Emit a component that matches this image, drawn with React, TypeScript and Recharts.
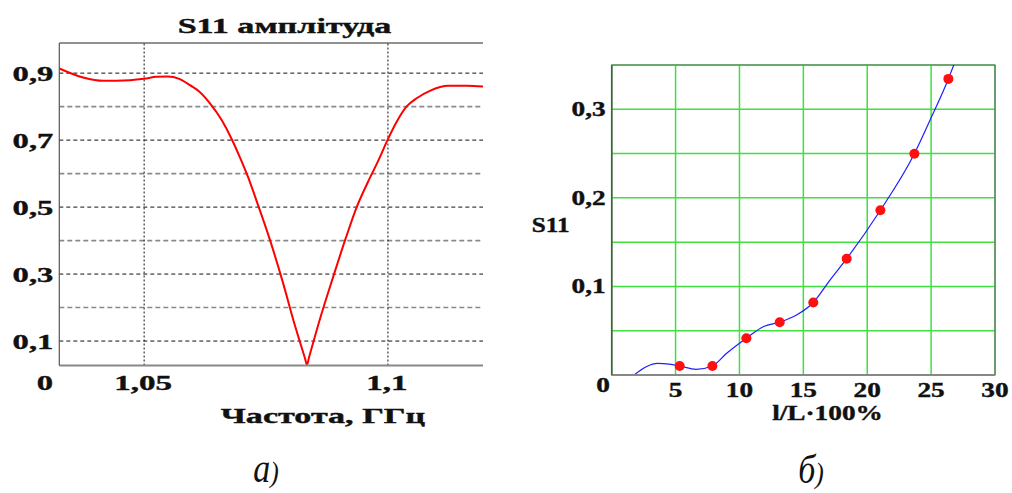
import React from 'react';
import {
  LineChart,
  Line,
  XAxis,
  YAxis,
  CartesianGrid,
  ReferenceLine,
  ReferenceArea,
  ComposedChart,
  Scatter,
} from 'recharts';

// ---- Chart (a): S11 amplitude vs frequency ----
const freqGHz = [
  1.0326, 1.0375, 1.0416, 1.0471, 1.05, 1.0525, 1.0548, 1.0572, 1.0594, 1.0614,
  1.0635, 1.0659, 1.0679, 1.0696, 1.0713, 1.073, 1.0758, 1.0785, 1.0806, 1.083,
  1.0834, 1.0838, 1.086, 1.0888, 1.0913, 1.0936, 1.0958, 1.098, 1.1, 1.1018,
  1.1038, 1.1059, 1.1086, 1.1124, 1.1162, 1.1195,
];
const s11Amplitude = [
  0.914, 0.887, 0.877, 0.879, 0.883, 0.889, 0.89, 0.883, 0.864, 0.844,
  0.81, 0.76, 0.705, 0.65, 0.59, 0.521, 0.402, 0.273, 0.163, 0.048,
  0.029, 0.05, 0.163, 0.293, 0.405, 0.5, 0.572, 0.638, 0.703, 0.755,
  0.8, 0.825, 0.847, 0.862, 0.862, 0.86,
];
const freqDomain = [1.0326, 1.1195];
const ampDomain = [0.027, 0.99];
const ampTicks = [0.1, 0.2, 0.3, 0.4, 0.5, 0.6, 0.7, 0.8, 0.9];
const ampLabels = [0.1, 0.3, 0.5, 0.7, 0.9];
const freqTicks = [1.05, 1.1];

// ---- Chart (b): S11 vs l/L*100% ----
const ratioPct = [5.32, 7.88, 10.54, 13.15, 15.78, 18.39, 21.03, 23.69, 26.35];
const s11Measured = [0.0102, 0.0102, 0.0415, 0.0596, 0.0819, 0.1313, 0.186, 0.2498, 0.3343];
const fitPct = [
  1.75, 2.7, 3.6, 4.5, 5.32, 6.6, 7.88, 9.0, 10.54, 11.9, 13.15, 14.5, 15.78,
  17.1, 18.39, 21.03, 23.69, 25.05, 26.35, 26.8,
];
const fitS11 = [
  0, 0.0094, 0.0132, 0.0123, 0.0102, 0.0064, 0.0102, 0.0245, 0.0415, 0.0547,
  0.0596, 0.068, 0.0819, 0.1075, 0.1313, 0.186, 0.2498, 0.292, 0.3343, 0.351,
];
const pctTicks = [0, 5, 10, 15, 20, 25, 30];
const s11Ticks = [0, 0.05, 0.1, 0.15, 0.2, 0.25, 0.3, 0.35];
const s11Labels = [0.1, 0.2, 0.3];

const ampData = freqGHz.map((f, i) => ({ f, v: s11Amplitude[i] }));
const measuredData = ratioPct.map((x, i) => ({ x, y: s11Measured[i] }));
const fitData = fitPct.map((x, i) => ({ x, y: fitS11[i] }));

const fmt = (v: number) => String(v).replace('.', ',');

const SERIF = 'Liberation Serif, Times New Roman, serif';
const INK = '#111';

const LeftYTick = (props: any) => {
  const { x, y, payload } = props;
  if (!ampLabels.includes(payload.value)) return <g />;
  return (
    <text
      x={0}
      y={0}
      transform={`translate(${x - 6},${y + 8}) scale(1.48,1)`}
      textAnchor="end"
      fontFamily={SERIF}
      fontWeight="bold"
      fontSize={22}
      fill={INK}
      stroke={INK}
      strokeWidth={0.4}
    >
      {fmt(payload.value)}
    </text>
  );
};

const LeftXTick = (props: any) => {
  const { x, y, payload } = props;
  return (
    <text
      x={0}
      y={0}
      transform={`translate(${x - 1},${y + 24.5}) scale(1.5,1)`}
      textAnchor="middle"
      fontFamily={SERIF}
      fontWeight="bold"
      fontSize={22}
      fill={INK}
      stroke={INK}
      strokeWidth={0.4}
    >
      {fmt(payload.value)}
    </text>
  );
};

const RightYTick = (props: any) => {
  const { x, y, payload } = props;
  if (!s11Labels.includes(payload.value)) return <g />;
  return (
    <text
      x={0}
      y={0}
      transform={`translate(${x - 6},${y + 6.7}) scale(1.3,1)`}
      textAnchor="end"
      fontFamily={SERIF}
      fontWeight="bold"
      fontSize={21}
      fill={INK}
      stroke={INK}
      strokeWidth={0.4}
    >
      {fmt(payload.value)}
    </text>
  );
};

const RightXTick = (props: any) => {
  const { x, y, payload } = props;
  const isZero = payload.value === 0;
  return (
    <text
      x={0}
      y={0}
      transform={`translate(${isZero ? x - 8.7 : x},${isZero ? y + 16.7 : y + 21.7}) scale(1.3,1)`}
      textAnchor="middle"
      fontFamily={SERIF}
      fontWeight="bold"
      fontSize={21}
      fill={INK}
      stroke={INK}
      strokeWidth={0.4}
    >
      {fmt(payload.value)}
    </text>
  );
};

const RedDot = (p: any) => <circle cx={p.cx} cy={p.cy} r={5} fill="#ff1010" />;

export default function App() {
  return (
    <div
      style={{
        position: 'absolute',
        left: 0,
        top: 0,
        width: 1012,
        height: 493,
        background: '#fff',
        overflow: 'hidden',
      }}
    >
      <div style={{ position: 'absolute', left: 0, top: 0 }}>
        <LineChart
          width={500}
          height={440}
          data={ampData}
          margin={{ top: 43, right: 17, left: 0, bottom: 44.5 }}
        >
          <XAxis
            type="number"
            dataKey="f"
            domain={freqDomain}
            ticks={freqTicks}
            allowDataOverflow
            height={30}
            tickSize={0}
            tickMargin={0}
            tickLine={false}
            axisLine={{ stroke: '#888', strokeWidth: 2 }}
            tick={<LeftXTick />}
          />
          <YAxis
            type="number"
            domain={ampDomain}
            ticks={ampTicks}
            allowDataOverflow
            width={59.3}
            tickSize={0}
            tickMargin={0}
            tickLine={false}
            axisLine={{ stroke: '#555', strokeWidth: 1.2 }}
            tick={<LeftYTick />}
          />
          {ampTicks.map((t) =>
            ampLabels.includes(t) ? (
              <ReferenceLine key={t} y={t} stroke="#111" strokeDasharray="4 3" strokeWidth={1} />
            ) : (
              <ReferenceLine key={t} y={t} stroke="#8a8a8a" strokeDasharray="5 3" strokeWidth={1.6} />
            )
          )}
          {freqTicks.map((t) => (
            <ReferenceLine key={'x' + t} x={t} stroke="#111" strokeDasharray="2 2" strokeWidth={1} />
          ))}
          <ReferenceLine y={ampDomain[1]} stroke="#222" strokeWidth={1} />
          <Line
            type="monotone"
            dataKey="v"
            stroke="#ff0000"
            strokeWidth={2}
            dot={false}
            isAnimationActive={false}
          />
        </LineChart>
      </div>

      <div style={{ position: 'absolute', left: 520, top: 0 }}>
        <ComposedChart
          width={492}
          height={440}
          margin={{ top: 65, right: 17, left: 0, bottom: 25 }}
        >
          <CartesianGrid stroke="#3fe03f" strokeWidth={1.5} />
          <XAxis
            type="number"
            dataKey="x"
            domain={[0, 30]}
            ticks={pctTicks}
            allowDataOverflow
            height={40}
            tickSize={0}
            tickMargin={0}
            tickLine={false}
            axisLine={{ stroke: '#888', strokeWidth: 2 }}
            tick={<RightXTick />}
          />
          <YAxis
            type="number"
            dataKey="y"
            domain={[0, 0.35]}
            ticks={s11Ticks}
            allowDataOverflow
            width={91.7}
            tickSize={0}
            tickMargin={0}
            tickLine={false}
            axisLine={{ stroke: '#555', strokeWidth: 1.5 }}
            tick={<RightYTick />}
          />
          <ReferenceArea
            x1={0}
            x2={30}
            y1={0}
            y2={0.35}
            fill="none"
            stroke="#6a6a6a"
            strokeWidth={1.2}
          />
          <Line
            data={fitData}
            type="monotone"
            dataKey="y"
            stroke="#1f1fff"
            strokeWidth={1.2}
            dot={false}
            isAnimationActive={false}
          />
          <Scatter
            data={measuredData}
            dataKey="y"
            fill="#ff1010"
            shape={<RedDot />}
            isAnimationActive={false}
          />
        </ComposedChart>
      </div>

      <svg
        width={1012}
        height={493}
        style={{ position: 'absolute', left: 0, top: 0, pointerEvents: 'none' }}
      >
        <g fontFamily={SERIF} fontWeight="bold" fill={INK} stroke={INK} strokeWidth={0.4}>
          <text transform="translate(284.5,33) scale(1.55,1)" textAnchor="middle" fontSize={22}>
            S11 амплітуда
          </text>
          <text transform="translate(323,422.5) scale(1.55,1)" textAnchor="middle" fontSize={22}>
            Частота, ГГц
          </text>
          <text transform="translate(45,390) scale(1.48,1)" textAnchor="middle" fontSize={22}>
            0
          </text>
          <text transform="translate(531.7,231.7) scale(1.2,1)" textAnchor="start" fontSize={21}>
            S11
          </text>
          <text transform="translate(827.5,420) scale(1.3,1)" textAnchor="middle" fontSize={21}>
            l/L·100%
          </text>
        </g>
        <g fontFamily={SERIF} fontStyle="italic" fill={INK}>
          <text transform="translate(266,482) scale(0.85,1)" textAnchor="middle">
            <tspan fontSize={40}>а</tspan>
            <tspan fontSize={30}>)</tspan>
          </text>
          <text transform="translate(811,483) scale(0.85,1)" textAnchor="middle">
            <tspan fontSize={40}>б</tspan>
            <tspan fontSize={30}>)</tspan>
          </text>
        </g>
      </svg>
    </div>
  );
}
